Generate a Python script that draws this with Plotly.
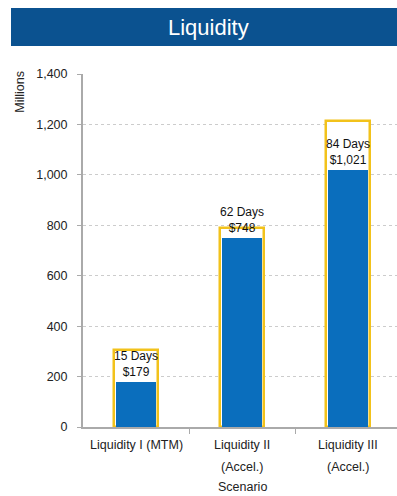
import plotly.graph_objects as go

categories = ["Liquidity I (MTM)", "Liquidity II (Accel.)", "Liquidity III (Accel.)"]
label_line1 = ["Liquidity I (MTM)", "Liquidity II", "Liquidity III"]
label_line2 = ["", "(Accel.)", "(Accel.)"]
liquidity_values = [179, 748, 1021]
capacity_values = [305, 790, 1215]
days = [15, 62, 84]
bar_text = [f"{d} Days<br>${v:,}" for d, v in zip(days, liquidity_values)]
y_ticks = [0, 200, 400, 600, 800, 1000, 1200, 1400]

FONT = "Liberation Sans, Arial, sans-serif"
FS = 12.5
xs = list(range(len(categories)))

fig = go.Figure()
fig.add_trace(go.Bar(
    x=xs, y=capacity_values, width=0.42,
    marker=dict(color="white", line=dict(color="#F2C21B", width=2.5)),
    hoverinfo="skip", showlegend=False,
))
fig.add_trace(go.Bar(
    x=xs, y=liquidity_values, width=0.38,
    marker=dict(color="#0A6EBD", line=dict(width=0)),
    text=bar_text, textposition="outside", cliponaxis=False, constraintext="none",
    textfont=dict(family=FONT, size=12, color="#111"),
    showlegend=False,
))

annotations = []
for i in xs:
    annotations.append(dict(x=i, y=-0.051, xref="x", yref="paper", text=label_line1[i],
                            showarrow=False, font=dict(family=FONT, size=FS, color="#222"),
                            xanchor="center", yanchor="middle"))
    if label_line2[i]:
        annotations.append(dict(x=i, y=-0.113, xref="x", yref="paper", text=label_line2[i],
                                showarrow=False, font=dict(family=FONT, size=FS, color="#222"),
                                xanchor="center", yanchor="middle"))
annotations.append(dict(x=1, y=-0.17, xref="x", yref="paper", text="Scenario", showarrow=False,
                        font=dict(family=FONT, size=FS, color="#222"), xanchor="center", yanchor="middle"))
annotations.append(dict(x=-0.2006, y=0.95, xref="paper", yref="paper", text="Millions", showarrow=False,
                        textangle=-90, font=dict(family=FONT, size=FS, color="#222"),
                        xanchor="center", yanchor="middle"))
annotations.append(dict(x=0.40, y=1.133, xref="paper", yref="paper", text="Liquidity", showarrow=False,
                        font=dict(family=FONT, size=22, color="white"), xanchor="center", yanchor="middle"))

fig.update_layout(
    width=397, height=496,
    margin=dict(l=83, r=0, t=74, b=69),
    paper_bgcolor="white", plot_bgcolor="white",
    barmode="overlay",
    bargap=0,
    font=dict(family=FONT, size=FS, color="#222"),
    shapes=[dict(type="rect", xref="paper", yref="paper",
                 x0=(11 - 83) / 314, x1=1.0, y0=(427 - 46) / 353, y1=(427 - 8) / 353,
                 fillcolor="#0B5290", line=dict(width=0), layer="below")],
    annotations=annotations,
    xaxis=dict(
        range=[-0.5, 2.462], tickvals=[0.5, 1.5], ticktext=["", ""],
        ticks="outside", ticklen=5, tickcolor="#aaaaaa",
        showline=True, linecolor="#aaaaaa", linewidth=1.5,
        showgrid=False, zeroline=False, fixedrange=True,
    ),
    yaxis=dict(
        range=[0, 1400], tickvals=y_ticks, tickformat=",",
        ticks="outside", ticklen=4, tickcolor="#aaaaaa",
        ticklabelstandoff=7,
        showline=True, linecolor="#aaaaaa", linewidth=2,
        showgrid=True, gridcolor="#cccccc", griddash="dot", gridwidth=1,
        zeroline=False, tickfont=dict(family=FONT, size=FS, color="#222"),
    ),
)

fig.write_html("out.html")
